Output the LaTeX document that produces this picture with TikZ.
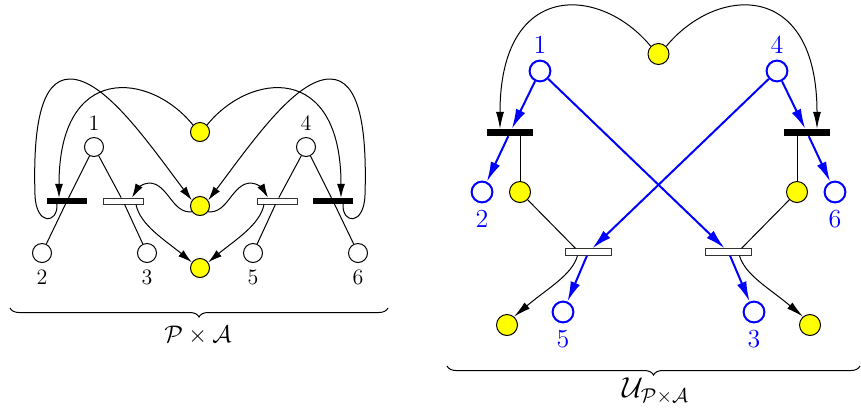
\documentclass[tikz,border=0pt]{standalone}
\usepackage{tikz}
\usetikzlibrary{arrows.meta,calc,decorations.pathreplacing}
\definecolor{tokfill}{HTML}{FFFF00}
\definecolor{netblue}{HTML}{0000FF}
\tikzset{
  place/.style={circle,draw=black,line width=0.5pt,fill=white,minimum size=9.5pt,inner sep=0pt},
  tok/.style={place,fill=tokfill},
  bplace/.style={place,draw=netblue,line width=1pt,minimum size=10.4pt},
  btok/.style={tok,minimum size=10.5pt},
  blackbar/.style={rectangle,draw=none,fill=black,minimum width=20pt,minimum height=2.75pt,inner sep=0pt},
  whitebar/.style={rectangle,draw=black!80,line width=0.4pt,fill=white,minimum width=20pt,minimum height=3pt,inner sep=0pt},
  ln/.style={line width=0.5pt},
  arr/.style={-{Latex[length=7pt,width=4pt]},line width=0.5pt},
  larr/.style={-{Latex[length=8.5pt,width=4pt]},line width=0.5pt},
  barr/.style={-{Latex[length=10pt,width=5pt]},line width=1pt,draw=netblue},
  lbl/.style={font=\fontsize{11}{13}\selectfont,inner sep=3pt},
  blbl/.style={font=\fontsize{13}{15}\selectfont,text=netblue,inner sep=3pt},
  brc/.style={decorate,decoration={brace,mirror,amplitude=4.5pt},line width=0.5pt},
  netcap/.style={font=\fontsize{13}{15}\selectfont},
}
\begin{document}
\begin{tikzpicture}[x=0.5pt,y=-0.5pt]
  \useasboundingbox (0,0) rectangle (861,409);
  % left net: places
  \node[tok] (yt) at (200,132) {};
  \node[tok] (ym) at (200,206) {};
  \node[tok] (yb) at (200,268) {};
  \node[place,label={[lbl]above:1}] (p1) at (94,147) {};
  \node[place,label={[lbl]above:4}] (p4) at (306,147) {};
  \node[place,label={[lbl]below:2}] (p2) at (42,253) {};
  \node[place,label={[lbl]below:3}] (p3) at (147,253) {};
  \node[place,label={[lbl]below:5}] (p5) at (253,253) {};
  \node[place,label={[lbl]below:6}] (p6) at (358,253) {};
  % left net: transitions
  \node[blackbar] (tb1) at (67,201) {};
  \node[whitebar] (tw1) at (123,201) {};
  \node[whitebar] (tw2) at (277,201) {};
  \node[blackbar] (tb2) at (333,201) {};
  % left net: arcs
  \draw[ln] (p1) -- (tb1) -- (p2);
  \draw[ln] (p1) -- (tw1) -- (p3);
  \draw[ln] (p4) -- (tw2) -- (p5);
  \draw[ln] (p4) -- (tb2) -- (p6);
  \draw[arr] (yt.135) .. controls (150,72) and (59,62) .. ($(tb1.north)+(-8,0)$);
  \draw[arr] (yt.45) .. controls (250,72) and (341,62) .. ($(tb2.north)+(8,0)$);
  \draw[arr] ($(tb1.south)+(-10,0)$) .. controls (58,224) and (36,226) .. (35,195)
    .. controls (33,130) and (40,79) .. (70,79) .. controls (105,79) and (150,145) .. (ym.145);
  \draw[arr] ($(tb2.south)+(10,0)$) .. controls (342,224) and (364,226) .. (365,195)
    .. controls (367,130) and (360,79) .. (330,79) .. controls (295,79) and (250,145) .. (ym.35);
  \draw[arr] (ym.215) .. controls (172,214) and (168,183) .. (149,183)
    .. controls (143,183) and (137,189) .. ($(tw1.north)+(9,0)$);
  \draw[arr] (ym.325) .. controls (228,214) and (232,183) .. (251,183)
    .. controls (257,183) and (263,189) .. ($(tw2.north)+(-9,0)$);
  \draw[arr] ($(tw1.south)+(13,0)$) .. controls (140,225) and (165,240) .. (yb.145);
  \draw[arr] ($(tw2.south)+(-13,0)$) .. controls (260,225) and (235,240) .. (yb.35);
  % left brace
  \coordinate (bl1) at (10,308);
  \coordinate (bl2) at (388,308);
  \draw[brc] (bl1) -- (bl2);
  \node[netcap] (capl) at (198,335) {$\mathcal{P}\times\mathcal{A}$};
  % right net: places
  \node[btok] (yt2) at (658.5,54) {};
  \node[bplace,label={[blbl]above:1}] (q1) at (540,71) {};
  \node[bplace,label={[blbl]above:4}] (q4) at (777,71) {};
  \node[bplace,label={[blbl]below:2}] (q2) at (482,192) {};
  \node[bplace,label={[blbl]below:6}] (q6) at (835,192) {};
  \node[btok] (yl) at (520,192) {};
  \node[btok] (yr) at (797,192) {};
  \node[btok] (ybl) at (507,325) {};
  \node[btok] (ybr) at (810,325) {};
  \node[bplace,label={[blbl]below:5}] (q5) at (563,312) {};
  \node[bplace,label={[blbl]below:3}] (q3) at (754,312) {};
  % right net: transitions
  \node[blackbar,minimum width=23pt,minimum height=3.25pt] (ub1) at (510,132.5) {};
  \node[blackbar,minimum width=23pt,minimum height=3.25pt] (ub2) at (807,132.5) {};
  \node[whitebar,minimum width=23pt,minimum height=3.25pt] (uw1) at (588.5,252) {};
  \node[whitebar,minimum width=23pt,minimum height=3.25pt] (uw2) at (728.5,252) {};
  % right net: arcs
  \draw[larr] (yt2.135) .. controls (600,-15) and (500,-20) .. ($(ub1.north)+(-10,0)$);
  \draw[larr] (yt2.45) .. controls (717,-15) and (817,-20) .. ($(ub2.north)+(10,0)$);
  \draw[ln] ($(ub1.south)+(10,0)$) -- (yl);
  \draw[ln] ($(ub2.south)+(-10,0)$) -- (yr);
  \draw[ln] (yl) -- ($(uw1.north)+(-13,0)$);
  \draw[ln] (yr) -- ($(uw2.north)+(13,0)$);
  \draw[larr] ($(uw1.south)+(-11,0)$) .. controls (572,275) and (548,288) .. (ybl.50);
  \draw[larr] ($(uw2.south)+(11,0)$) .. controls (745,275) and (769,288) .. (ybr.130);
  \draw[barr] (q1) -- (ub1);
  \draw[barr] (ub1) -- (q2);
  \draw[barr] (q4) -- (ub2);
  \draw[barr] (ub2) -- (q6);
  \draw[barr] (q1) -- (uw2);
  \draw[barr] (q4) -- (uw1);
  \draw[barr] (uw1) -- (q5);
  \draw[barr] (uw2) -- (q3);
  % right brace
  \coordinate (br1) at (447,366);
  \coordinate (br2) at (860,366);
  \draw[brc] (br1) -- (br2);
  \node[netcap,font=\fontsize{14}{16}\selectfont] (capr) at (656,391) {$\mathcal{U}_{\mathcal{P}\times\mathcal{A}}$};
\end{tikzpicture}
\end{document}
